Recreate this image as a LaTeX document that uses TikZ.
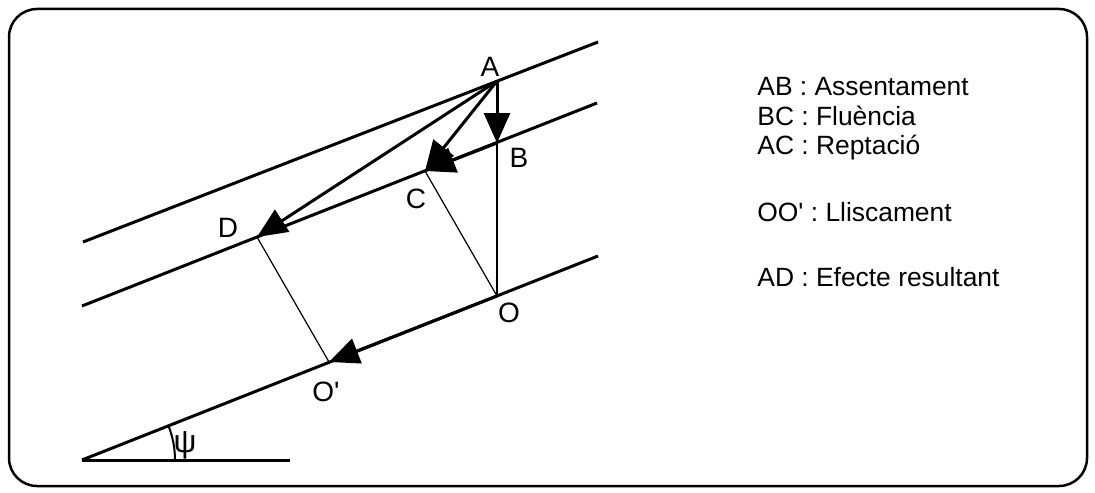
\documentclass[tikz,border=0pt]{standalone}
\usepackage{fontspec}
\setmainfont{Liberation Sans}
\usetikzlibrary{arrows.meta}

\tikzset{
  pendent/.style={line width=1.5pt},
  vector/.style={line width=1.5pt, -{Triangle[length=15pt,width=13pt]}},
  guia/.style={line width=0.6pt},
  punt/.style={font=\fontsize{14}{16}\selectfont, inner sep=0pt},
  llegenda/.style={font=\fontsize{13.2}{15}\selectfont, anchor=base west, inner sep=0pt}
}

\begin{document}
\begin{tikzpicture}[x=0.5pt, y=-0.5pt]
    \useasboundingbox (0,0) rectangle (1095,492);

    % 1. Marc
    \draw[line width=1.25pt, rounded corners=14pt] (9,9) rectangle (1087,486);

    % 2. Punts del vessant
    \coordinate (T1) at (83,242);
    \coordinate (T2) at (598,42);
    \coordinate (M1) at (82,306);
    \coordinate (M2) at (597,103);
    \coordinate (P)  at (82,460);
    \coordinate (Q)  at (598,256);
    \coordinate (H)  at (290,460);
    \coordinate (A)  at (497,81);
    \coordinate (B)  at (497,143);
    \coordinate (C)  at (425,171);
    \coordinate (D)  at (257,237);
    \coordinate (O)  at (497,296);
    \coordinate (Op) at (329,362);

    % 3. Linies paral.leles i horitzontal
    \draw[pendent] (T1) -- (T2);
    \draw[pendent] (M1) -- (M2);
    \draw[pendent] (P) -- (Q);
    \draw[pendent] (P) -- (H);
    \draw[line width=1.2pt] (B) -- (O);
    \draw[guia] (C) -- (O);
    \draw[guia] (D) -- (Op);

    % 4. Vectors
    \draw[vector] (A) -- (B);
    \draw[vector] (B) -- (C);
    \draw[vector] (A) -- (C);
    \draw[vector] (A) -- (D);
    \draw[vector] (O) -- (Op);

    % 5. Angle
    \draw[line width=1pt] (P) ++(93,0) arc[start angle=0, end angle=-21.6, radius=93];
    \node[punt, font=\fontsize{16}{18}\selectfont] (psi) at (185,445) {ψ};

    % 6. Etiquetes
    \node[punt] (lblA)  at (490,67)  {A};
    \node[punt] (lblB)  at (519,158) {B};
    \node[punt] (lblC)  at (416,199) {C};
    \node[punt] (lblD)  at (228,228) {D};
    \node[punt] (lblO)  at (509,313) {O};
    \node[punt] (lblOp) at (326,392) {O\textquotesingle};

    % 7. Llegenda
    \node[llegenda] (ab) at (757,96)  {AB : Assentament};
    \node[llegenda] (bc) at (757,125) {BC : Fluència};
    \node[llegenda] (ac) at (757,154) {AC : Reptació};
    \node[llegenda] (oo) at (757,221) {OO\textquotesingle{} : Lliscament};
    \node[llegenda] (ad) at (757,286) {AD : Efecte resultant};
\end{tikzpicture}
\end{document}
